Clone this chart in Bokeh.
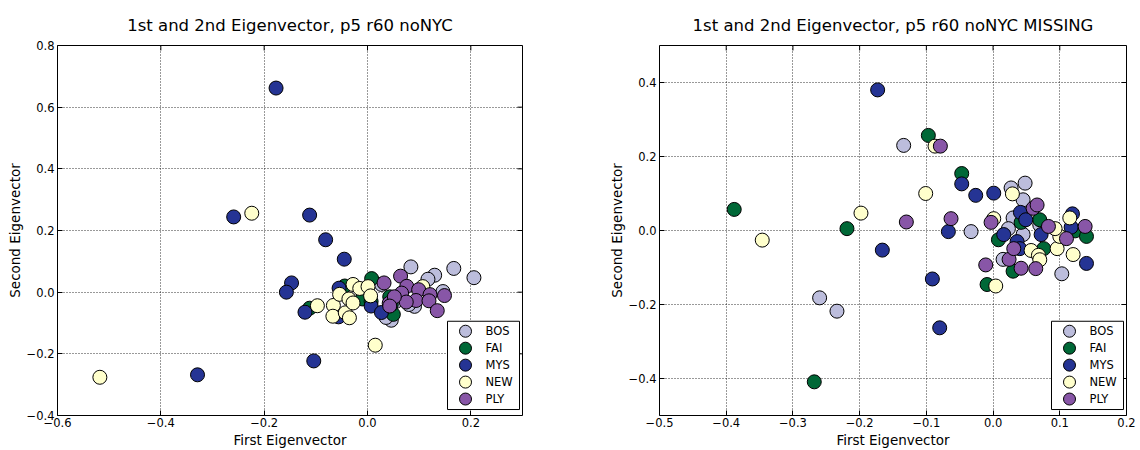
from bokeh.plotting import figure
from bokeh.layouts import row
from bokeh.models import FixedTicker, Range1d
from bokeh.core.properties import value
from bokeh.embed import file_html
from bokeh.resources import INLINE

# ---------------- data ----------------
sites = ["BOS", "FAI", "MYS", "NEW", "PLY"]
site_colors = ["#bcbddc", "#006837", "#253494", "#ffffcc", "#8856a7"]

# left panel: p5 r60 noNYC
bos_l_x = [0.084, 0.167, 0.206, 0.130, 0.117, 0.146, 0.046, 0.036, 0.091, 0.080, 0.027, 0.055]
bos_l_y = [0.082, 0.077, 0.047, 0.055, 0.042, 0.002, -0.091, -0.082, -0.046, -0.040, 0.025, -0.030]
fai_l_x = [0.008, -0.112, -0.044, -0.010, 0.043, 0.050, 0.046, 0.007]
fai_l_y = [0.044, -0.052, 0.020, -0.022, -0.015, -0.072, -0.040, -0.030]
mys_l_x = [-0.177, -0.259, -0.112, -0.081, -0.045, -0.147, -0.157, -0.121, -0.104, -0.329,
           -0.055, 0.007, 0.027, -0.056]
mys_l_y = [0.662, 0.244, 0.250, 0.170, 0.107, 0.030, 0.000, -0.065, -0.223, -0.268,
           0.013, -0.045, -0.066, -0.080]
new_l_x = [-0.224, -0.518, 0.015, -0.097, -0.066, -0.067, -0.043, -0.035, -0.054, -0.036,
           -0.028, -0.028, -0.015, 0.001, 0.006, 0.107]
new_l_y = [0.256, -0.276, -0.172, -0.044, -0.043, -0.078, -0.067, -0.083, -0.007, -0.022,
           -0.035, 0.025, 0.012, 0.018, -0.012, 0.018]
ply_l_x = [0.064, 0.032, 0.076, 0.099, 0.066, 0.121, 0.149, 0.094, 0.119, 0.075, 0.042,
           0.135, 0.052, 0.043]
ply_l_y = [0.052, 0.030, 0.019, 0.008, -0.003, -0.008, -0.011, -0.027, -0.028, -0.032, -0.036,
           -0.060, -0.015, -0.045]

# right panel: p5 r60 noNYC MISSING
bos_r_x = [-0.134, -0.260, -0.234, -0.033, 0.027, 0.048, 0.045, 0.030, 0.023, 0.045, 0.015, 0.103, 0.070]
bos_r_y = [0.230, -0.182, -0.218, -0.003, 0.115, 0.128, 0.083, 0.034, 0.005, -0.011, -0.078, -0.117, 0.015]
fai_r_x = [-0.388, -0.268, -0.219, -0.097, -0.047, -0.009, 0.008, 0.030, 0.042, 0.070, 0.076, 0.123, 0.140]
fai_r_y = [0.057, -0.409, 0.005, 0.257, 0.154, -0.146, -0.025, -0.110, 0.022, 0.029, -0.049, -0.001, -0.016]
mys_r_x = [-0.173, -0.047, -0.026, 0.001, -0.067, -0.166, -0.091, -0.080, 0.016, 0.041, 0.049,
           0.072, 0.119, 0.117, 0.140, 0.036, 0.040]
mys_r_y = [0.380, 0.126, 0.095, 0.101, -0.003, -0.053, -0.131, -0.263, -0.011, 0.049, 0.029,
           -0.011, 0.045, 0.009, -0.089, -0.030, -0.049]
new_r_x = [-0.346, -0.198, -0.101, -0.087, 0.004, 0.029, 0.001, 0.057, 0.068, 0.070, 0.096,
           0.100, 0.093, 0.115, 0.120]
new_r_y = [-0.026, 0.047, 0.100, 0.228, -0.150, 0.099, 0.032, -0.054, -0.067, -0.079, -0.049,
           -0.016, 0.005, 0.034, -0.065]
ply_r_x = [-0.079, -0.130, -0.063, -0.003, -0.011, 0.024, 0.031, 0.042, 0.064, 0.060, 0.066,
           0.083, 0.110, 0.138]
ply_r_y = [0.228, 0.023, 0.032, 0.022, -0.093, -0.078, -0.049, -0.102, -0.103, 0.060, 0.069,
           0.011, -0.022, 0.011]

left_x_ticks = [-0.6, -0.4, -0.2, 0.0, 0.2]
left_x_labels = ["\u22120.6", "\u22120.4", "\u22120.2", "0.0", "0.2"]
left_y_ticks = [-0.4, -0.2, 0.0, 0.2, 0.4, 0.6, 0.8]
left_y_labels = ["\u22120.4", "\u22120.2", "0.0", "0.2", "0.4", "0.6", "0.8"]
right_x_ticks = [-0.5, -0.4, -0.3, -0.2, -0.1, 0.0, 0.1, 0.2]
right_x_labels = ["\u22120.5", "\u22120.4", "\u22120.3", "\u22120.2", "\u22120.1", "0.0", "0.1", "0.2"]
right_y_ticks = [-0.4, -0.2, 0.0, 0.2, 0.4]
right_y_labels = ["\u22120.4", "\u22120.2", "0.0", "0.2", "0.4"]

FONT = "DejaVu Sans"
FIG_W, FIG_H = 570, 450
B_TOP, B_BOTTOM = 45, 34


def make_panel(title, xr, yr, xt, xl, yt, yl, series, border_left, border_right):
    p = figure(width=FIG_W, height=FIG_H, x_range=Range1d(*xr), y_range=Range1d(*yr),
               output_backend="svg", toolbar_location=None,
               min_border_left=border_left, min_border_right=border_right,
               min_border_top=B_TOP, min_border_bottom=B_BOTTOM)
    p.title.text = title
    p.title.align = "center"
    p.title.text_font = FONT
    p.title.text_font_size = "16.5px"
    p.title.text_font_style = "normal"
    p.title.text_color = "#000000"
    p.title.standoff = 22

    p.outline_line_color = "#000000"
    p.outline_line_alpha = 1.0
    p.outline_line_width = 1
    p.background_fill_color = "#ffffff"
    p.border_fill_color = "#ffffff"

    p.xaxis.ticker = FixedTicker(ticks=xt)
    p.yaxis.ticker = FixedTicker(ticks=yt)
    p.xaxis.major_label_overrides = {t: s for t, s in zip(xt, xl)}
    p.yaxis.major_label_overrides = {t: s for t, s in zip(yt, yl)}
    p.xaxis.axis_label = "First Eigenvector"
    p.yaxis.axis_label = "Second Eigenvector"
    for ax in (p.xaxis[0], p.yaxis[0]):
        ax.axis_label_text_font = FONT
        ax.axis_label_text_font_size = "13.5px"
        ax.axis_label_text_font_style = "normal"
        ax.axis_label_text_color = "#000000"
        ax.major_label_text_font = FONT
        ax.major_label_text_font_size = "11.5px"
        ax.major_label_text_color = "#000000"
        ax.major_tick_in = 5
        ax.major_tick_out = 0
        ax.minor_tick_line_color = None
        ax.axis_line_color = None
        ax.major_tick_line_color = "#000000"
    p.xaxis.major_label_standoff = 2
    p.xaxis.axis_label_standoff = 2
    p.yaxis.major_label_standoff = 3
    p.yaxis.axis_label_standoff = 1

    p.xgrid.ticker = FixedTicker(ticks=xt)
    p.ygrid.ticker = FixedTicker(ticks=yt)
    for g in (p.xgrid[0], p.ygrid[0]):
        g.grid_line_color = "#000000"
        g.grid_line_dash = "1 2"
        g.grid_line_width = 1
        g.grid_line_alpha = 0.8

    # pixel -> data helpers (frame size is fixed by the borders)
    fw = FIG_W - border_left - border_right
    fh = FIG_H - B_TOP - B_BOTTOM
    dx = (xr[1] - xr[0]) / fw
    dy = (yr[1] - yr[0]) / fh

    # mirrored inward ticks on top and right edges (matplotlib classic look)
    p.segment(x0=xt, y0=[yr[1]] * len(xt), x1=xt, y1=[yr[1] - 5 * dy] * len(xt),
              line_color="#000000", line_width=1)
    p.segment(x0=[xr[1]] * len(yt), y0=yt, x1=[xr[1] - 5 * dx] * len(yt), y1=yt,
              line_color="#000000", line_width=1)

    for name, color, (xs, ys) in zip(sites, site_colors, series):
        p.scatter(xs, ys, size=14, fill_color=color, line_color="#000000", line_width=1)

    # ---- legend box (lower right), placed by pixel offsets from the frame corner ----
    def lx(off):  # pixels left of frame's right edge
        return xr[1] - off * dx

    def ly(off):  # pixels above frame's bottom edge
        return yr[0] + off * dy

    p.quad(left=[lx(75)], right=[lx(3)], bottom=[ly(6)], top=[ly(94.5)],
           fill_color="#ffffff", line_color="#000000", line_width=1)
    row_offsets = [84.5, 67.5, 50.5, 33.5, 16.5]
    ys_leg = [ly(o) for o in row_offsets]
    p.scatter([lx(57)] * len(sites), ys_leg, size=12, fill_color=site_colors,
              line_color="#000000", line_width=1)
    p.text([lx(37)] * len(sites), ys_leg, text=sites, text_font=value(FONT),
           text_font_size="11.5px", text_baseline="middle", text_align="left",
           text_color="#000000")
    return p


p1 = make_panel("1st and 2nd Eigenvector, p5 r60 noNYC", (-0.6, 0.3), (-0.4, 0.8),
                left_x_ticks, left_x_labels, left_y_ticks, left_y_labels,
                [(bos_l_x, bos_l_y), (fai_l_x, fai_l_y), (mys_l_x, mys_l_y),
                 (new_l_x, new_l_y), (ply_l_x, ply_l_y)],
                57, 48)
p2 = make_panel("1st and 2nd Eigenvector, p5 r60 noNYC MISSING", (-0.5, 0.2), (-0.5, 0.5),
                right_x_ticks, right_x_labels, right_y_ticks, right_y_labels,
                [(bos_r_x, bos_r_y), (fai_r_x, fai_r_y), (mys_r_x, mys_r_y),
                 (new_r_x, new_r_y), (ply_r_x, ply_r_y)],
                89, 14)

layout = row(p1, p2)
open("out.html", "w").write(file_html(layout, INLINE))
